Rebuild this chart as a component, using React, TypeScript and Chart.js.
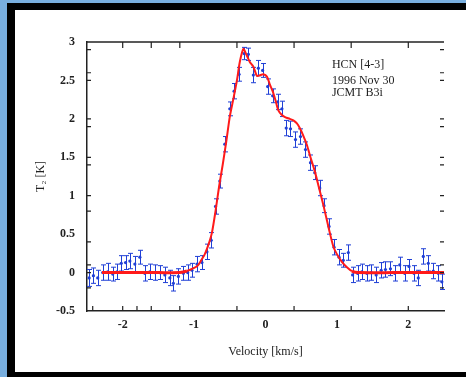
import React, { useEffect, useRef } from "react";
import { Chart, registerables } from "chart.js";
Chart.register(...registerables);

// Observed spectrum (velocity km/s, antenna temperature K, 1-sigma error)
const velocity = [
  -2.47, -2.41, -2.35, -2.28, -2.21, -2.14, -2.08, -2.02, -1.96, -1.9, -1.83, -1.76, -1.69, -1.62,
  -1.55, -1.48, -1.41, -1.34, -1.29, -1.22, -1.15, -1.09, -1.03, -0.96, -0.89, -0.82, -0.76, -0.7,
  -0.64, -0.57, -0.5, -0.44, -0.37, -0.3, -0.24, -0.17, -0.1, -0.04, 0.03, 0.1, 0.17, 0.23, 0.29,
  0.35, 0.42, 0.49, 0.56, 0.63, 0.69, 0.76, 0.82, 0.89, 0.96, 1.03, 1.09, 1.16, 1.22, 1.29, 1.35,
  1.42, 1.48, 1.55, 1.62, 1.68, 1.75, 1.81, 1.88, 1.95, 2.01, 2.08, 2.14, 2.21, 2.28, 2.35, 2.42, 2.47,
];
const temperature = [
  -0.07, -0.04, -0.07, 0.0, 0.01, -0.02, 0.01, 0.12, 0.13, 0.15, 0.11, 0.2, -0.01, 0.01,
  0.0, 0.0, -0.03, -0.07, -0.14, -0.05, -0.01, 0.0, 0.03, 0.11, 0.13, 0.27, 0.42, 0.86,
  1.19, 1.67, 2.13, 2.36, 2.58, 2.85, 2.84, 2.57, 2.66, 2.63, 2.42, 2.3, 2.22, 2.13, 1.88,
  1.87, 1.73, 1.77, 1.6, 1.43, 1.3, 1.1, 0.87, 0.6, 0.33, 0.2, 0.16, 0.26, -0.03, -0.01, 0.01,
  -0.01, 0.0, -0.03, 0.03, 0.04, 0.05, -0.01, 0.1, -0.01, 0.08, -0.01, -0.07, 0.21, 0.12, 0.02, -0.01, -0.12,
];
const tempError = [
  0.11, 0.1, 0.1, 0.1, 0.11, 0.09, 0.1, 0.1, 0.09, 0.1, 0.1, 0.09, 0.1, 0.1,
  0.1, 0.09, 0.1, 0.1, 0.1, 0.1, 0.09, 0.1, 0.09, 0.1, 0.09, 0.1, 0.1, 0.1,
  0.09, 0.1, 0.09, 0.1, 0.09, 0.08, 0.08, 0.1, 0.1, 0.09, 0.1, 0.09, 0.1, 0.1, 0.1,
  0.1, 0.1, 0.1, 0.1, 0.1, 0.09, 0.1, 0.09, 0.1, 0.1, 0.1, 0.09, 0.1, 0.1, 0.1, 0.1,
  0.1, 0.1, 0.1, 0.1, 0.1, 0.09, 0.1, 0.1, 0.1, 0.09, 0.1, 0.1, 0.1, 0.1, 0.1, 0.1, 0.1,
];

// Fitted model curve
const fitVelocity = [
  -2.29, -1.5, -1.2, -1.1, -1.0, -0.95, -0.9, -0.85, -0.8, -0.75, -0.7, -0.65, -0.6, -0.55, -0.5,
  -0.45, -0.4, -0.36, -0.31, -0.27, -0.22, -0.17, -0.12, -0.07, -0.03, 0.02, 0.06, 0.1, 0.14,
  0.18, 0.23, 0.28, 0.34, 0.39, 0.44, 0.48, 0.53, 0.58, 0.63, 0.69, 0.75, 0.81, 0.86, 0.9, 0.95,
  1.0, 1.07, 1.14, 1.21, 1.3, 1.8, 2.5,
];
const fitTemperature = [
  0.0, 0.0, 0.0, 0.02, 0.06, 0.09, 0.16, 0.24, 0.36, 0.52, 0.8, 1.12, 1.4, 1.7, 2.03,
  2.26, 2.5, 2.74, 2.91, 2.84, 2.74, 2.68, 2.56, 2.57, 2.58, 2.55, 2.45, 2.36, 2.24,
  2.11, 2.05, 2.02, 2.0, 1.98, 1.94, 1.88, 1.78, 1.66, 1.5, 1.32, 1.1, 0.88, 0.68, 0.52, 0.34,
  0.24, 0.14, 0.07, 0.02, 0.0, 0.0, 0.0,
];

const xTickLabels = [-2, -1, 0, 1, 2];
const yTickLabels = [-0.5, 0, 0.5, 1, 1.5, 2, 2.5, 3];
const xTickMarksBottom = [-2.42, -2, -1.8, -1.6, -1.2, -0.4, 0.4, 1.2, 2];
const xTickMarksTop = [-2, -1.6, -1.2, -0.4, 0.4, 1.2, 2];
const yTickMarks = [2.9, 2.6, 2.5, 2.0, 1.9, 1.5, 1.4, 1.0, 0.8, 0.4, 0.1, 0.0, -0.2];
const annotationLines = ["HCN [4-3]", "1996 Nov 30", "JCMT B3i"];

const ANNOT_POS = { x: 0.93, y: [2.7, 2.5, 2.34] };
const FONT = "'Liberation Serif', 'DejaVu Serif', serif";
const BLUE = "#1f3fd6";
const RED = "#ff1a1a";
const INK = "#222";

const extras = {
  id: "extras",
  beforeDatasetsDraw(chart: any) {
    const { ctx } = chart;
    const xs = chart.scales.x;
    const ys = chart.scales.y;
    ctx.save();
    ctx.strokeStyle = BLUE;
    ctx.lineWidth = 1;
    for (let i = 0; i < velocity.length; i++) {
      const px = Math.round(xs.getPixelForValue(velocity[i])) + 0.5;
      const y1 = ys.getPixelForValue(temperature[i] - tempError[i]);
      const y2 = ys.getPixelForValue(temperature[i] + tempError[i]);
      ctx.beginPath();
      ctx.moveTo(px, y1);
      ctx.lineTo(px, y2);
      ctx.moveTo(px - 2.5, y1);
      ctx.lineTo(px + 2.5, y1);
      ctx.moveTo(px - 2.5, y2);
      ctx.lineTo(px + 2.5, y2);
      ctx.stroke();
    }
    ctx.restore();
  },
  afterDraw(chart: any) {
    const { ctx, chartArea } = chart;
    const xs = chart.scales.x;
    const ys = chart.scales.y;
    const { left, right, top, bottom } = chartArea;
    ctx.save();
    ctx.strokeStyle = INK;
    ctx.lineWidth = 1.5;
    ctx.beginPath();
    ctx.moveTo(left, top);
    ctx.lineTo(right, top);
    ctx.stroke();
    ctx.lineWidth = 1.2;
    ctx.beginPath();
    for (const v of xTickMarksBottom) {
      const px = xs.getPixelForValue(v);
      ctx.moveTo(px, bottom);
      ctx.lineTo(px, bottom - 5);
    }
    for (const v of xTickMarksTop) {
      const px = xs.getPixelForValue(v);
      ctx.moveTo(px, top);
      ctx.lineTo(px, top + 6);
    }
    for (const v of yTickMarks) {
      const py = ys.getPixelForValue(v);
      ctx.moveTo(left, py);
      ctx.lineTo(left + 4, py);
      ctx.moveTo(right - 4, py);
      ctx.lineTo(right, py);
    }
    ctx.stroke();
    ctx.fillStyle = INK;
    ctx.font = `12px ${FONT}`;
    ctx.textBaseline = "middle";
    ctx.textAlign = "left";
    const tx = xs.getPixelForValue(ANNOT_POS.x);
    annotationLines.forEach((t, i) => {
      ctx.fillText(t, tx, ys.getPixelForValue(ANNOT_POS.y[i]));
    });
    ctx.restore();
  },
};

export default function App() {
  const ref = useRef<HTMLCanvasElement>(null);
  useEffect(() => {
    document.body.style.margin = "0";
    const chart = new Chart(ref.current!, {
      type: "scatter",
      data: {
        datasets: [
          {
            label: "fit",
            data: fitVelocity.map((x, i) => ({ x, y: fitTemperature[i] })),
            showLine: true,
            borderColor: RED,
            borderWidth: 2,
            pointRadius: 0,
            tension: 0.25,
            segment: {
              borderWidth: (c: any) => (c.p0.parsed.y < 0.03 && c.p1.parsed.y < 0.03 ? 3 : 2),
            },
          },
          {
            label: "HCN 4-3",
            data: velocity.map((x, i) => ({ x, y: temperature[i] })),
            showLine: false,
            pointRadius: 1.6,
            pointBackgroundColor: BLUE,
            pointBorderWidth: 0,
            borderColor: BLUE,
          },
        ],
      },
      options: {
        responsive: false,
        animation: false,
        layout: { padding: { top: 32, right: 22, bottom: 0, left: 0 } },
        plugins: { legend: { display: false }, tooltip: { enabled: false } },
        scales: {
          x: {
            type: "linear",
            min: -2.5,
            max: 2.5,
            afterBuildTicks: (s: any) => {
              s.ticks = xTickLabels.map((v) => ({ value: v }));
            },
            afterFit: (s: any) => {
              s.height = 61;
            },
            grid: { display: false, drawTicks: false },
            border: { display: true, color: INK, width: 1.5 },
            ticks: {
              padding: 7,
              color: INK,
              font: { family: FONT, size: 12, weight: "bold" },
              maxRotation: 0,
              callback: (v: any) => String(v),
            },
            title: {
              display: true,
              text: "Velocity [km/s]",
              color: INK,
              font: { family: FONT, size: 12 },
              padding: { top: 0, bottom: 13 },
            },
          },
          y: {
            type: "linear",
            min: -0.5,
            max: 3,
            afterBuildTicks: (s: any) => {
              s.ticks = yTickLabels.map((v) => ({ value: v }));
            },
            afterFit: (s: any) => {
              s.width = 72;
            },
            grid: { display: false, drawTicks: false },
            border: { display: true, color: INK, width: 1.5 },
            ticks: {
              padding: 12,
              color: INK,
              font: { family: FONT, size: 12, weight: "bold" },
              callback: (v: any) => String(v),
            },
            title: {
              display: true,
              text: "T\u2082 [K]",
              color: INK,
              font: { family: FONT, size: 12 },
              padding: { top: 19, bottom: 0 },
            },
          },
        },
      },
      plugins: [extras],
    });
    return () => chart.destroy();
  }, []);
  return (
    <div style={{ position: "relative", width: 466, height: 377, background: "#78aede", overflow: "hidden" }}>
      <div style={{ position: "absolute", left: 7, top: 3, width: 459, height: 374, background: "#000" }} />
      <div style={{ position: "absolute", left: 15, top: 10, width: 451, height: 362, background: "#fff" }}>
        <canvas ref={ref} width={451} height={362} style={{ display: "block", width: 451, height: 362 }} />
      </div>
    </div>
  );
}
